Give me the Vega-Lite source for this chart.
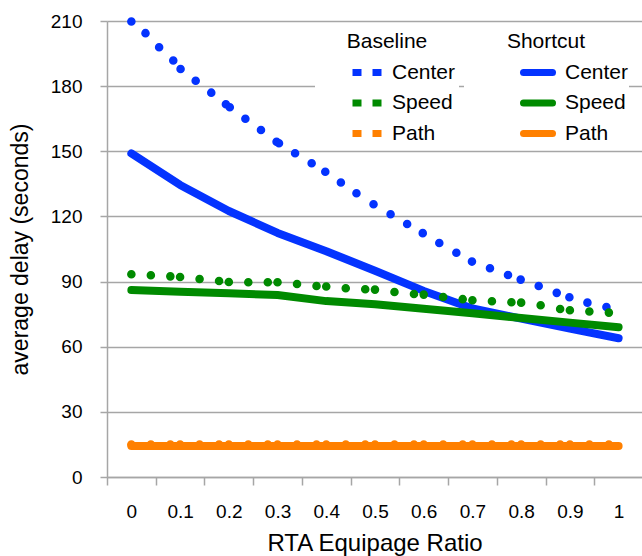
{
  "$schema": "https://vega.github.io/schema/vega-lite/v6.json",
  "width": 535,
  "height": 456,
  "autosize": {"type": "none"},
  "padding": {"left": 107, "top": 21, "right": 0, "bottom": 79},
  "background": "white",
  "config": {"view": {"stroke": null}, "font": "Liberation Sans"},
  "datasets": {
    "baseline": [
      {"series": "Center", "ratio": 0, "delay": 209.8},
      {"series": "Center", "ratio": 0.029, "delay": 204.4},
      {"series": "Center", "ratio": 0.057, "delay": 197.9},
      {"series": "Center", "ratio": 0.086, "delay": 191.8},
      {"series": "Center", "ratio": 0.101, "delay": 187.9},
      {"series": "Center", "ratio": 0.132, "delay": 182.5},
      {"series": "Center", "ratio": 0.164, "delay": 177.0},
      {"series": "Center", "ratio": 0.194, "delay": 171.7},
      {"series": "Center", "ratio": 0.202, "delay": 170.3},
      {"series": "Center", "ratio": 0.234, "delay": 165.0},
      {"series": "Center", "ratio": 0.266, "delay": 159.8},
      {"series": "Center", "ratio": 0.298, "delay": 154.4},
      {"series": "Center", "ratio": 0.303, "delay": 153.7},
      {"series": "Center", "ratio": 0.336, "delay": 149.1},
      {"series": "Center", "ratio": 0.370, "delay": 144.5},
      {"series": "Center", "ratio": 0.398, "delay": 140.6},
      {"series": "Center", "ratio": 0.430, "delay": 135.6},
      {"series": "Center", "ratio": 0.462, "delay": 130.7},
      {"series": "Center", "ratio": 0.497, "delay": 125.6},
      {"series": "Center", "ratio": 0.532, "delay": 121.0},
      {"series": "Center", "ratio": 0.566, "delay": 116.5},
      {"series": "Center", "ratio": 0.598, "delay": 112.3},
      {"series": "Center", "ratio": 0.632, "delay": 107.8},
      {"series": "Center", "ratio": 0.667, "delay": 103.3},
      {"series": "Center", "ratio": 0.699, "delay": 99.2},
      {"series": "Center", "ratio": 0.736, "delay": 96.1},
      {"series": "Center", "ratio": 0.773, "delay": 93.0},
      {"series": "Center", "ratio": 0.799, "delay": 90.9},
      {"series": "Center", "ratio": 0.836, "delay": 88.0},
      {"series": "Center", "ratio": 0.873, "delay": 84.8},
      {"series": "Center", "ratio": 0.899, "delay": 82.8},
      {"series": "Center", "ratio": 0.936, "delay": 80.3},
      {"series": "Center", "ratio": 0.975, "delay": 78.3},
      {"series": "Speed", "ratio": 0, "delay": 93.4},
      {"series": "Speed", "ratio": 0.04, "delay": 92.9},
      {"series": "Speed", "ratio": 0.08, "delay": 92.4},
      {"series": "Speed", "ratio": 0.1, "delay": 92.1},
      {"series": "Speed", "ratio": 0.14, "delay": 91.2},
      {"series": "Speed", "ratio": 0.18, "delay": 90.3},
      {"series": "Speed", "ratio": 0.2, "delay": 89.8},
      {"series": "Speed", "ratio": 0.24, "delay": 89.7},
      {"series": "Speed", "ratio": 0.28, "delay": 89.7},
      {"series": "Speed", "ratio": 0.3, "delay": 89.7},
      {"series": "Speed", "ratio": 0.34, "delay": 88.9},
      {"series": "Speed", "ratio": 0.38, "delay": 88.0},
      {"series": "Speed", "ratio": 0.4, "delay": 87.7},
      {"series": "Speed", "ratio": 0.44, "delay": 86.9},
      {"series": "Speed", "ratio": 0.48, "delay": 86.5},
      {"series": "Speed", "ratio": 0.5, "delay": 86.3},
      {"series": "Speed", "ratio": 0.54, "delay": 85.2},
      {"series": "Speed", "ratio": 0.58, "delay": 84.3},
      {"series": "Speed", "ratio": 0.6, "delay": 84.0},
      {"series": "Speed", "ratio": 0.64, "delay": 82.9},
      {"series": "Speed", "ratio": 0.68, "delay": 81.9},
      {"series": "Speed", "ratio": 0.7, "delay": 81.4},
      {"series": "Speed", "ratio": 0.74, "delay": 80.9},
      {"series": "Speed", "ratio": 0.78, "delay": 80.5},
      {"series": "Speed", "ratio": 0.8, "delay": 80.3},
      {"series": "Speed", "ratio": 0.84, "delay": 79.1},
      {"series": "Speed", "ratio": 0.88, "delay": 77.4},
      {"series": "Speed", "ratio": 0.9, "delay": 76.8},
      {"series": "Speed", "ratio": 0.94, "delay": 76.2},
      {"series": "Speed", "ratio": 0.98, "delay": 75.7},
      {"series": "Path", "ratio": 0, "delay": 15.0},
      {"series": "Path", "ratio": 0.04, "delay": 15.0},
      {"series": "Path", "ratio": 0.08, "delay": 15.0},
      {"series": "Path", "ratio": 0.1, "delay": 15.0},
      {"series": "Path", "ratio": 0.14, "delay": 15.0},
      {"series": "Path", "ratio": 0.18, "delay": 15.0},
      {"series": "Path", "ratio": 0.2, "delay": 15.0},
      {"series": "Path", "ratio": 0.24, "delay": 15.0},
      {"series": "Path", "ratio": 0.28, "delay": 15.0},
      {"series": "Path", "ratio": 0.3, "delay": 15.0},
      {"series": "Path", "ratio": 0.34, "delay": 15.0},
      {"series": "Path", "ratio": 0.38, "delay": 15.0},
      {"series": "Path", "ratio": 0.4, "delay": 15.0},
      {"series": "Path", "ratio": 0.44, "delay": 15.0},
      {"series": "Path", "ratio": 0.48, "delay": 15.0},
      {"series": "Path", "ratio": 0.5, "delay": 15.0},
      {"series": "Path", "ratio": 0.54, "delay": 15.0},
      {"series": "Path", "ratio": 0.58, "delay": 15.0},
      {"series": "Path", "ratio": 0.6, "delay": 15.0},
      {"series": "Path", "ratio": 0.64, "delay": 15.0},
      {"series": "Path", "ratio": 0.68, "delay": 15.0},
      {"series": "Path", "ratio": 0.7, "delay": 15.0},
      {"series": "Path", "ratio": 0.74, "delay": 15.0},
      {"series": "Path", "ratio": 0.78, "delay": 15.0},
      {"series": "Path", "ratio": 0.8, "delay": 15.0},
      {"series": "Path", "ratio": 0.84, "delay": 15.0},
      {"series": "Path", "ratio": 0.88, "delay": 15.0},
      {"series": "Path", "ratio": 0.9, "delay": 15.0},
      {"series": "Path", "ratio": 0.94, "delay": 15.0},
      {"series": "Path", "ratio": 0.98, "delay": 15.0}
    ],
    "shortcut": [
      {"series": "Center", "ratio": 0, "delay": 149.0},
      {"series": "Center", "ratio": 0.1, "delay": 134.5},
      {"series": "Center", "ratio": 0.2, "delay": 122.5},
      {"series": "Center", "ratio": 0.3, "delay": 112.4},
      {"series": "Center", "ratio": 0.4, "delay": 104.0},
      {"series": "Center", "ratio": 0.5, "delay": 95.0},
      {"series": "Center", "ratio": 0.6, "delay": 85.7},
      {"series": "Center", "ratio": 0.7, "delay": 77.6},
      {"series": "Center", "ratio": 0.8, "delay": 72.9},
      {"series": "Center", "ratio": 0.9, "delay": 68.3},
      {"series": "Center", "ratio": 1.0, "delay": 63.9},
      {"series": "Speed", "ratio": 0, "delay": 86.1},
      {"series": "Speed", "ratio": 0.1, "delay": 85.3},
      {"series": "Speed", "ratio": 0.2, "delay": 84.6},
      {"series": "Speed", "ratio": 0.3, "delay": 83.8},
      {"series": "Speed", "ratio": 0.4, "delay": 81.0},
      {"series": "Speed", "ratio": 0.5, "delay": 79.6},
      {"series": "Speed", "ratio": 0.6, "delay": 77.5},
      {"series": "Speed", "ratio": 0.7, "delay": 75.4},
      {"series": "Speed", "ratio": 0.8, "delay": 73.2},
      {"series": "Speed", "ratio": 0.9, "delay": 71.1},
      {"series": "Speed", "ratio": 1.0, "delay": 69.0},
      {"series": "Path", "ratio": 0, "delay": 14.3},
      {"series": "Path", "ratio": 0.1, "delay": 14.3},
      {"series": "Path", "ratio": 0.2, "delay": 14.3},
      {"series": "Path", "ratio": 0.3, "delay": 14.3},
      {"series": "Path", "ratio": 0.4, "delay": 14.3},
      {"series": "Path", "ratio": 0.5, "delay": 14.3},
      {"series": "Path", "ratio": 0.6, "delay": 14.3},
      {"series": "Path", "ratio": 0.7, "delay": 14.3},
      {"series": "Path", "ratio": 0.8, "delay": 14.3},
      {"series": "Path", "ratio": 0.9, "delay": 14.3},
      {"series": "Path", "ratio": 1.0, "delay": 14.3}
    ]
  },
  "encoding": {
    "x": {
      "field": "ratio", "type": "quantitative",
      "scale": {"domain": [-0.05, 1.048], "nice": false, "zero": false},
      "axis": {
        "values": [-0.05, 0.05, 0.15, 0.25, 0.35, 0.45, 0.55, 0.65, 0.75, 0.85, 0.95],
        "labelExpr": "format(datum.value + 0.05, '.1~f')",
        "labelOffset": 24.36,
        "title": "RTA Equipage Ratio",
        "grid": false,
        "domainColor": "#a6a6a6", "domainWidth": 1.5,
        "tickColor": "#a6a6a6", "tickWidth": 1.5, "tickSize": 8,
        "labelFontSize": 19, "labelColor": "black", "labelPadding": 17,
        "labelFlush": false, "labelOverlap": false,
        "titleFontSize": 24, "titleFontWeight": "normal", "titleColor": "black", "titlePadding": 10
      }
    },
    "y": {
      "field": "delay", "type": "quantitative",
      "scale": {"domain": [0, 210], "nice": false},
      "axis": {
        "values": [0, 30, 60, 90, 120, 150, 180, 210],
        "title": "average delay (seconds)",
        "grid": true, "gridColor": "#a6a6a6", "gridWidth": 1.5,
        "domainColor": "#a6a6a6", "domainWidth": 1.5,
        "tickColor": "#a6a6a6", "tickWidth": 1.5, "tickSize": 7,
        "labelFontSize": 19, "labelColor": "black", "labelPadding": 18,
        "labelFlush": false, "labelOverlap": false,
        "titleFontSize": 23, "titleFontWeight": "normal", "titleColor": "black", "titlePadding": 18
      }
    }
  },
  "layer": [
    {
      "data": {"name": "shortcut"},
      "mark": {"type": "line", "strokeWidth": 8, "strokeCap": "round", "strokeJoin": "round"},
      "encoding": {
        "color": {
          "field": "series", "type": "nominal",
          "scale": {"domain": ["Center", "Speed", "Path"], "range": ["#0433ff", "#008a00", "#ff8000"]},
          "legend": {
            "title": "Shortcut", "orient": "none", "legendX": 357, "legendY": 10,
            "fillColor": "white", "padding": 0,
            "symbolType": "stroke", "symbolSize": 841, "symbolStrokeWidth": 7,
            "symbolOffset": 56, "labelOffset": 9,
            "labelExpr": "datum.label + '         '",
            "labelFontSize": 21, "labelColor": "black",
            "titleFontSize": 21, "titleFontWeight": "normal", "titleColor": "black",
            "titleAnchor": "middle", "titlePadding": 7.5, "rowPadding": 4.5, "clipHeight": 26,
            "encode": {"symbols": {"update": {"strokeCap": {"value": "round"}}}}
          }
        }
      }
    },
    {
      "data": {"name": "baseline"},
      "mark": {"type": "point", "filled": true, "size": 50, "strokeWidth": 1.5, "opacity": 1},
      "encoding": {
        "fill": {
          "field": "series", "type": "nominal",
          "scale": {"domain": ["Center", "Speed", "Path"], "range": ["#0433ff", "#008a00", "#ff8000"]},
          "legend": null
        },
        "stroke": {
          "field": "series", "type": "nominal", "sort": null,
          "scale": {"range": ["#0433ff", "#008a00", "#ff8000"]},
          "legend": {
            "title": "Baseline", "orient": "none", "legendX": 208, "legendY": 7,
            "fillColor": "white", "padding": 3,
            "symbolType": "stroke", "symbolSize": 841, "symbolStrokeWidth": 7,
            "symbolDash": [9, 11], "symbolOffset": 31, "labelOffset": 7,
            "labelExpr": "datum.label + '    '",
            "labelFontSize": 21, "labelColor": "black",
            "titleFontSize": 21, "titleFontWeight": "normal", "titleColor": "black",
            "titleAnchor": "middle", "titlePadding": 7.5, "rowPadding": 4.5, "clipHeight": 26,
            "encode": {"symbols": {"update": {"strokeCap": {"value": "round"}, "strokeWidth": {"value": 7}}}}
          }
        }
      }
    }
  ],
  "resolve": {"scale": {"color": "independent"}}
}
